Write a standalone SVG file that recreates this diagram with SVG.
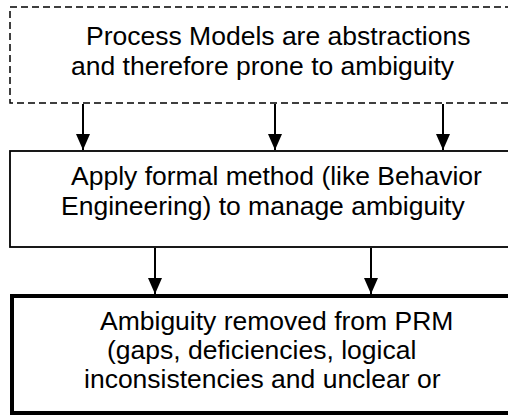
<svg xmlns="http://www.w3.org/2000/svg" width="508" height="415" viewBox="0 0 508 415">
<style>
text{font-family:"Liberation Sans",Arial,Helvetica,sans-serif;font-size:26.5px;fill:#000}
.box{fill:#fff;stroke:#000}
.conn line{stroke:#000;stroke-width:2}
</style>
<defs>
<marker id="ah" markerUnits="userSpaceOnUse" markerWidth="16" markerHeight="14" refX="16" refY="7" orient="auto" viewBox="0 0 16 14">
<path d="M0,0 L16,7 L0,14 Z" fill="#000"/>
</marker>
</defs>
<rect width="508" height="415" fill="#fff"/>
<g id="node-process-models">
<rect class="box" x="10" y="7" width="520" height="96" stroke-width="1.5" stroke-dasharray="7 4"/>
<text x="86" y="45">Process Models are abstractions</text>
<text x="71" y="75">and therefore prone to ambiguity</text>
</g>
<g id="node-apply-formal">
<rect class="box" x="10" y="151" width="520" height="96" stroke-width="1.8"/>
<text x="71" y="185">Apply formal method (like Behavior</text>
<text x="61" y="215">Engineering) to manage ambiguity</text>
</g>
<g id="node-ambiguity-removed">
<rect class="box" x="12" y="296" width="520" height="117" stroke-width="4"/>
<text x="100" y="330">Ambiguity removed from PRM</text>
<text x="107" y="359">(gaps, deficiencies, logical</text>
<text x="84" y="388">inconsistencies and unclear or</text>
</g>
<g id="connectors" class="conn">
<line x1="83" y1="104" x2="83" y2="150" marker-end="url(#ah)"/>
<line x1="275" y1="104" x2="275" y2="150" marker-end="url(#ah)"/>
<line x1="443" y1="104" x2="443" y2="150" marker-end="url(#ah)"/>
<line x1="155" y1="248" x2="155" y2="294" marker-end="url(#ah)"/>
<line x1="371" y1="248" x2="371" y2="294" marker-end="url(#ah)"/>
</g>
</svg>
